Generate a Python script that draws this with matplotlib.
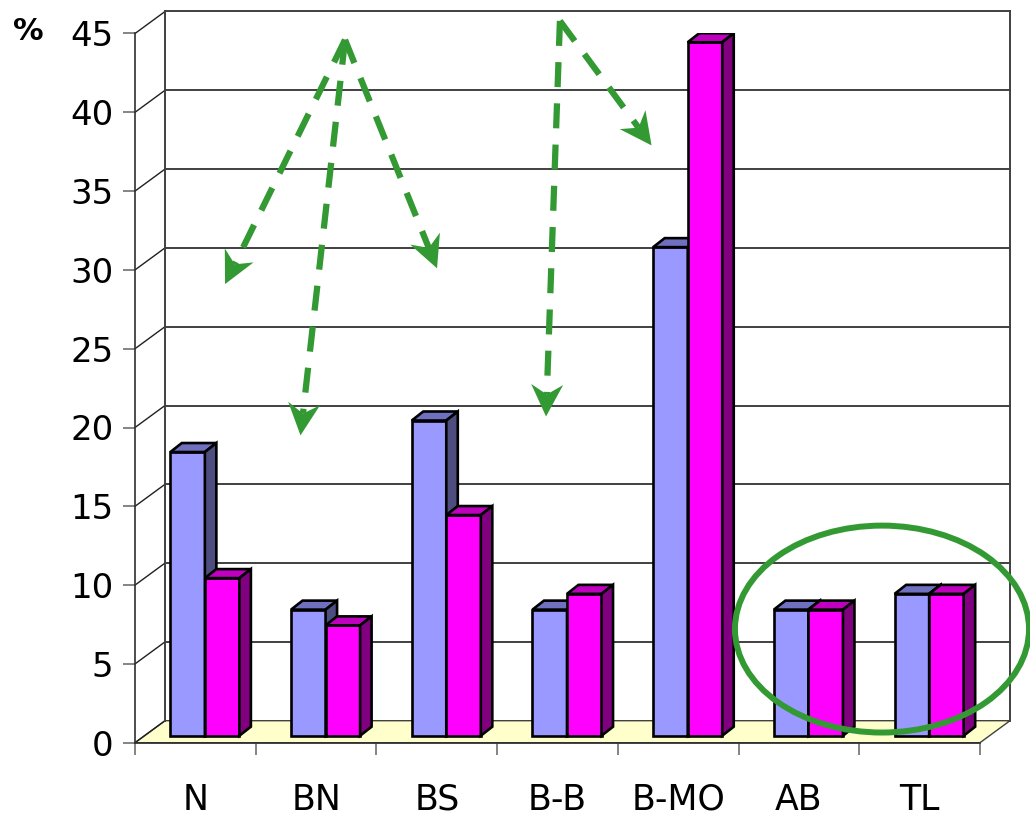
import numpy as np
import matplotlib.pyplot as plt
from matplotlib.patches import Polygon, Ellipse

categories = ["N", "BN", "BS", "B-B", "B-MO", "AB", "TL"]
series_a = [18, 8, 20, 8, 31, 8, 9]
series_b = [10, 7, 14, 9, 44, 8, 9]
y_ticks = list(range(0, 50, 5))

# dashed green arrows: common start point and the tips (data coords)
arrow_starts = [(1.24, 44.6), (3.02, 45.8)]
arrow_tips = [[(0.246, 29.1), (0.871, 19.5), (2.002, 30.1)],
              [(2.905, 20.7), (3.779, 37.9)]]

# ring around the last two groups (data coords)
ring_center = (5.688, 7.21)
ring_size = (2.436, 13.13)

W, H = 1030, 817
fig = plt.figure(figsize=(W / 100, H / 100), dpi=100)
ax = fig.add_axes([135 / W, 74.3 / H, 845 / W, 709.2 / H])
ax.set_xlim(-0.5, 6.5)
ax.set_ylim(0, 45)

ux = 845 / 7
uy = 709.2 / 45


def px(dx, dy):
    # pixel offset -> data offset
    return dx / ux, dy / uy


wall_dx, wall_dy = px(30, 22)
plane_dx, plane_dy = px(9.5, 7)
depth_dx, depth_dy = px(11.5, 9)

grid_c = "#404040"
for s in ["top", "right"]:
    ax.spines[s].set_visible(False)
ax.spines["left"].set_color("#303030")
ax.spines["bottom"].set_color("#303030")
ax.spines["left"].set_linewidth(1.2)
ax.spines["bottom"].set_linewidth(1.2)

# floor
floor = Polygon([(-0.5, 0), (6.5, 0), (6.5 + wall_dx, wall_dy), (-0.5 + wall_dx, wall_dy)],
                closed=True, facecolor="#FFFFCC", edgecolor=grid_c, lw=1.0, zorder=1, clip_on=False)
ax.add_patch(floor)

# back wall gridlines and side wall diagonals
xl, xr = -0.5 + wall_dx, 6.5 + wall_dx
for v in y_ticks:
    if v > 0:
        ax.plot([xl, xr], [v + wall_dy, v + wall_dy], color=grid_c, lw=1.4, zorder=1, clip_on=False)
    ax.plot([-0.5, xl], [v, v + wall_dy], color="#202020", lw=1.0, zorder=1, clip_on=False)
ax.plot([xl, xl], [wall_dy, 45 + wall_dy], color=grid_c, lw=1.4, zorder=1, clip_on=False)
ax.plot([xr, xr], [wall_dy, 45 + wall_dy], color=grid_c, lw=1.4, zorder=1, clip_on=False)

# bars
bw = 0.286
x = np.arange(len(categories))
styles = [
    (series_a, x - bw, "#9999FF", "#7070C0", "#4D4D80", 3),
    (series_b, x, "#FF00FF", "#BF00BF", "#800080", 4),
]
for vals, lefts, front, top, side, z in styles:
    ax.bar(lefts + plane_dx, vals, bw, bottom=plane_dy, align="edge",
           color=front, edgecolor="black", lw=1.9, zorder=z)
    for x0, v in zip(lefts + plane_dx, vals):
        x1 = x0 + bw
        yt = v + plane_dy
        ax.add_patch(Polygon([(x0, yt), (x1, yt), (x1 + depth_dx, yt + depth_dy), (x0 + depth_dx, yt + depth_dy)],
                             closed=True, facecolor=top, edgecolor="black", lw=1.9, zorder=z))
        ax.add_patch(Polygon([(x1, plane_dy), (x1 + depth_dx, plane_dy + depth_dy),
                              (x1 + depth_dx, yt + depth_dy), (x1, yt)],
                             closed=True, facecolor=side, edgecolor="black", lw=1.9, zorder=z))

# ticks and labels
ax.set_yticks(y_ticks)
ax.set_yticklabels([str(v) for v in y_ticks])
ax.tick_params(axis="y", length=8.6, width=1.2, color="#707070", labelsize=24.5, pad=7)
ax.set_xticks(np.arange(-0.5, 7, 1))
ax.set_xticklabels([])
ax.set_xticks(x, minor=True)
ax.set_xticklabels(categories, minor=True)
ax.tick_params(axis="x", which="major", length=8.6, width=1.2, color="#707070")
ax.tick_params(axis="x", which="minor", length=0, labelsize=25, pad=29)
fig.text(28 / W, 1 - 31 / H, "%", fontsize=22, fontweight="bold", ha="center", va="center")

# green annotations
green = "#339933"
head_len, head_w, notch = 32, 32, 10
to_disp = ax.transData
to_data = ax.transData.inverted()
for start, tips in zip(arrow_starts, arrow_tips):
    s = to_disp.transform(start)
    for tip in tips:
        t = to_disp.transform(tip)
        d = (t - s) / np.hypot(*(t - s))
        n = np.array([-d[1], d[0]])
        back = t - head_len * d
        mid = t - (head_len - notch) * d
        end = to_data.transform(mid)
        ax.plot([start[0], end[0]], [start[1], end[1]], color=green, lw=4.5,
                linestyle=(0, (4, 2.6)), solid_capstyle="butt", zorder=6, clip_on=False)
        head = [t, back + head_w / 2 * n, mid, back - head_w / 2 * n]
        ax.add_patch(Polygon(to_data.transform(head), closed=True, facecolor=green,
                             edgecolor="none", zorder=6, clip_on=False))

ax.add_patch(Ellipse(ring_center, ring_size[0], ring_size[1], fill=False,
                     edgecolor=green, lw=4.3, zorder=6, clip_on=False))

fig.savefig("out.png", dpi=100)
